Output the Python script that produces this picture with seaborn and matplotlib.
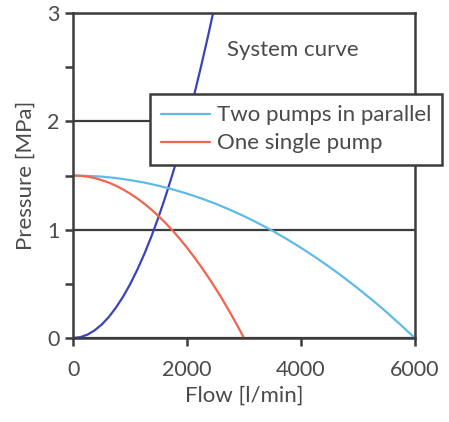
import matplotlib
matplotlib.use("Agg")
import matplotlib.pyplot as plt
from matplotlib.ticker import MultipleLocator
import seaborn as sns
import pandas as pd

# Data
single_q = [0, 125, 250, 375, 500, 625, 750, 875, 1000, 1125, 1250, 1375, 1500,
            1625, 1750, 1875, 2000, 2125, 2250, 2375, 2500, 2625, 2750, 2875, 3000]
single_p = [1.5, 1.497, 1.49, 1.477, 1.458, 1.435, 1.406, 1.372, 1.333, 1.289, 1.24, 1.185, 1.125,
            1.06, 0.99, 0.914, 0.833, 0.747, 0.656, 0.56, 0.458, 0.352, 0.24, 0.122, 0.0]

parallel_q = [0, 250, 500, 750, 1000, 1250, 1500, 1750, 2000, 2250, 2500, 2750, 3000,
              3250, 3500, 3750, 4000, 4250, 4500, 4750, 5000, 5250, 5500, 5750, 6000]
parallel_p = [1.5, 1.497, 1.49, 1.477, 1.458, 1.435, 1.406, 1.372, 1.333, 1.289, 1.24, 1.185, 1.125,
              1.06, 0.99, 0.914, 0.833, 0.747, 0.656, 0.56, 0.458, 0.352, 0.24, 0.122, 0.0]

system_q = [0, 125, 250, 375, 500, 625, 750, 875, 1000, 1125, 1250, 1375, 1500,
            1625, 1750, 1875, 2000, 2125, 2250, 2375, 2456]
system_p = [0.0, 0.008, 0.031, 0.07, 0.124, 0.194, 0.28, 0.381, 0.497, 0.63, 0.777, 0.94, 1.119,
            1.313, 1.523, 1.749, 1.989, 2.246, 2.518, 2.805, 3.0]

x_ticks = [0, 2000, 4000, 6000]
y_ticks = [0, 1, 2, 3]

sns.set_theme(style="white")
plt.rcParams['font.family'] = ['Lato', 'DejaVu Sans']

TXT = "#4a4a4a"
SPINE = "#3c3c3c"

fig = plt.figure(figsize=(4.49, 4.22), dpi=100)
ax = fig.add_axes([0.163, 0.199, 0.761, 0.770])

df_s = pd.DataFrame({"Flow": system_q, "Pressure": system_p})
df_p = pd.DataFrame({"Flow": parallel_q, "Pressure": parallel_p})
df_1 = pd.DataFrame({"Flow": single_q, "Pressure": single_p})

sns.lineplot(data=df_s, x="Flow", y="Pressure", ax=ax, color="#3a44b8", lw=1.6, sort=False)
sns.lineplot(data=df_p, x="Flow", y="Pressure", ax=ax, color="#5dbbe6", lw=1.6, sort=False,
             label="Two pumps in parallel")
sns.lineplot(data=df_1, x="Flow", y="Pressure", ax=ax, color="#f0654e", lw=1.6, sort=False,
             label="One single pump")

ax.set_xlim(0, 6000)
ax.set_ylim(0, 3)
ax.set_xticks(x_ticks)
ax.set_yticks(y_ticks)
ax.yaxis.set_minor_locator(MultipleLocator(0.5))
ax.grid(axis="y", which="major", color=SPINE, lw=1.6)
ax.set_axisbelow(True)

for s in ax.spines.values():
    s.set_color(SPINE)
    s.set_linewidth(1.8)

ax.tick_params(axis="both", which="both", direction="out", length=6, width=1.8,
               color=SPINE, labelcolor=TXT, labelsize=15.5, left=True, bottom=True)
ax.tick_params(axis="x", pad=10)
ax.tick_params(axis="y", pad=4)

ax.set_xlabel("Flow [l/min]", fontsize=16, color=TXT, labelpad=4)
ax.set_ylabel("Pressure [MPa]", fontsize=16, color=TXT, labelpad=8)

ax.text(2700, 2.66, "System curve", fontsize=16, color=TXT, va="center", ha="left")

leg = ax.legend(loc="upper left", bbox_to_anchor=(0.225, 0.75), fontsize=16,
                frameon=True, fancybox=False, handlelength=2.2, handletextpad=0.3,
                borderpad=0.5, labelspacing=0.36, borderaxespad=0)
leg.get_frame().set_edgecolor(SPINE)
leg.get_frame().set_linewidth(1.8)
leg.get_frame().set_alpha(1)
for t in leg.get_texts():
    t.set_color(TXT)

fig.savefig("out.png", dpi=100)
